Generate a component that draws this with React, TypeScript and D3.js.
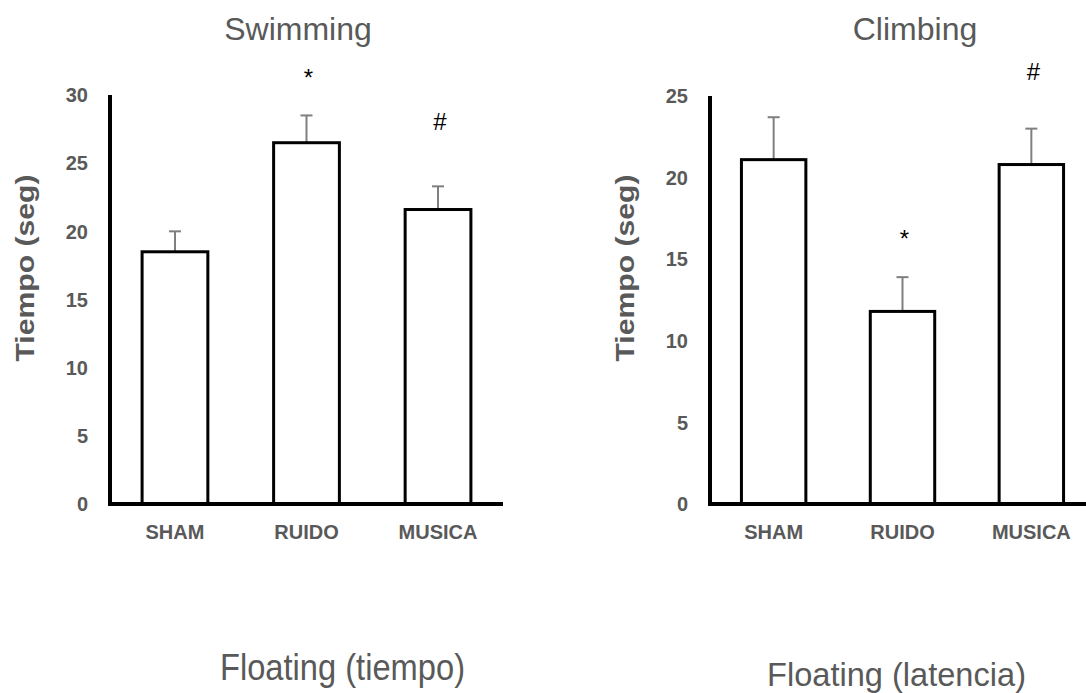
import { useEffect, useRef } from "react";
import { select, scaleBand, scaleLinear } from "d3";

const categories = ["SHAM", "RUIDO", "MUSICA"];

const swimmingMeans = [18.5, 26.5, 21.6];
const swimmingErrors = [1.5, 2.0, 1.7];
const swimmingTicks = [0, 5, 10, 15, 20, 25, 30];
const swimmingMarks = ["", "*", "#"];
const swimmingMarkLevels = [0, 31.7, 28.0];

const climbingMeans = [21.1, 11.8, 20.8];
const climbingErrors = [2.6, 2.1, 2.2];
const climbingTicks = [0, 5, 10, 15, 20, 25];
const climbingMarks = ["", "*", "#"];
const climbingMarkLevels = [0, 16.6, 26.5];

const GREY = "#595959";
const FONT = "'Liberation Sans', Arial, sans-serif";

const drawPanel = (svg, opts) => {
  const { left, right, top, bottom, maxY, title, titleX, means, errors, ticks, marks, markLevels } = opts;
  const g = svg.append("g");

  const xScale = scaleBand()
    .domain(categories)
    .range([left, right])
    .paddingInner(0.5)
    .paddingOuter(0.244);

  const yScale = scaleLinear().domain([0, maxY]).range([bottom, top]);

  // title
  g.append("text")
    .attr("x", titleX)
    .attr("y", 40)
    .attr("text-anchor", "middle")
    .style("font-family", FONT)
    .style("font-size", "32px")
    .style("fill", GREY)
    .text(title);

  // y axis title
  g.append("text")
    .attr("transform", `translate(${left - 85},268) rotate(-90)`)
    .attr("text-anchor", "middle")
    .attr("dy", "0.35em")
    .attr("textLength", 187)
    .attr("lengthAdjust", "spacingAndGlyphs")
    .style("font-family", FONT)
    .style("font-size", "25px")
    .style("font-weight", "bold")
    .style("fill", GREY)
    .text("Tiempo (seg)");

  // tick labels
  g.selectAll(".tick-label")
    .data(ticks)
    .enter()
    .append("text")
    .attr("x", left - 22)
    .attr("y", (d) => yScale(d))
    .attr("dy", "0.36em")
    .attr("text-anchor", "end")
    .style("font-family", FONT)
    .style("font-size", "20px")
    .style("font-weight", "bold")
    .style("fill", GREY)
    .text((d) => d);

  // error bars
  const bw = xScale.bandwidth();
  categories.forEach((c, i) => {
    const cx = xScale(c) + bw / 2;
    g.append("line")
      .attr("x1", cx)
      .attr("x2", cx)
      .attr("y1", yScale(means[i]))
      .attr("y2", yScale(means[i] + errors[i]))
      .attr("stroke", "#7f7f7f")
      .attr("stroke-width", 2);
    g.append("line")
      .attr("x1", cx - 6)
      .attr("x2", cx + 6)
      .attr("y1", yScale(means[i] + errors[i]))
      .attr("y2", yScale(means[i] + errors[i]))
      .attr("stroke", "#7f7f7f")
      .attr("stroke-width", 2);
  });

  // bars
  g.selectAll(".bar")
    .data(means)
    .enter()
    .append("rect")
    .attr("x", (d, i) => xScale(categories[i]))
    .attr("y", (d) => yScale(d))
    .attr("width", bw)
    .attr("height", (d) => yScale(0) - yScale(d))
    .attr("fill", "white")
    .attr("stroke", "black")
    .attr("stroke-width", 3);

  // significance marks
  marks.forEach((m, i) => {
    if (!m) return;
    const cx = xScale(categories[i]) + bw / 2 + 2;
    g.append("text")
      .attr("x", cx)
      .attr("y", yScale(markLevels[i]) + (m === "*" ? 14 : 8))
      .attr("text-anchor", "middle")
      .style("font-family", FONT)
      .style("font-size", "24px")
      .style("fill", "black")
      .text(m);
  });

  // axes
  g.append("line")
    .attr("x1", left)
    .attr("x2", left)
    .attr("y1", top)
    .attr("y2", bottom + 2)
    .attr("stroke", "black")
    .attr("stroke-width", 4);
  g.append("line")
    .attr("x1", left - 2)
    .attr("x2", right)
    .attr("y1", bottom)
    .attr("y2", bottom)
    .attr("stroke", "black")
    .attr("stroke-width", 4);

  // category labels
  g.selectAll(".cat")
    .data(categories)
    .enter()
    .append("text")
    .attr("x", (d) => xScale(d) + bw / 2)
    .attr("y", 532)
    .attr("dy", "0.36em")
    .attr("text-anchor", "middle")
    .style("font-family", FONT)
    .style("font-size", "20px")
    .style("font-weight", "bold")
    .style("fill", GREY)
    .text((d) => d);
};

const App = () => {
  const svgRef = useRef(null);

  useEffect(() => {
    document.body.style.margin = "0";
    const svg = select(svgRef.current);
    svg.selectAll("*").remove();

    drawPanel(svg, {
      left: 110,
      right: 503,
      top: 95,
      bottom: 504,
      maxY: 30,
      title: "Swimming",
      titleX: 298,
      means: swimmingMeans,
      errors: swimmingErrors,
      ticks: swimmingTicks,
      marks: swimmingMarks,
      markLevels: swimmingMarkLevels,
    });

    drawPanel(svg, {
      left: 710,
      right: 1095,
      top: 96,
      bottom: 504,
      maxY: 25,
      title: "Climbing",
      titleX: 915,
      means: climbingMeans,
      errors: climbingErrors,
      ticks: climbingTicks,
      marks: climbingMarks,
      markLevels: climbingMarkLevels,
    });

    // bottom captions
    svg
      .append("text")
      .attr("x", 342.5)
      .attr("y", 680)
      .attr("text-anchor", "middle")
      .attr("textLength", 245)
      .attr("lengthAdjust", "spacingAndGlyphs")
      .style("font-family", FONT)
      .style("font-size", "37px")
      .style("fill", GREY)
      .text("Floating (tiempo)");

    svg
      .append("text")
      .attr("x", 896.5)
      .attr("y", 686)
      .attr("text-anchor", "middle")
      .attr("textLength", 259)
      .attr("lengthAdjust", "spacingAndGlyphs")
      .style("font-family", FONT)
      .style("font-size", "34px")
      .style("fill", GREY)
      .text("Floating (latencia)");
  }, []);

  return (
    <div style={{ width: 1086, height: 693, overflow: "hidden" }}>
      <svg ref={svgRef} width={1086} height={693} style={{ display: "block", background: "white" }}></svg>
    </div>
  );
};

export default App;
